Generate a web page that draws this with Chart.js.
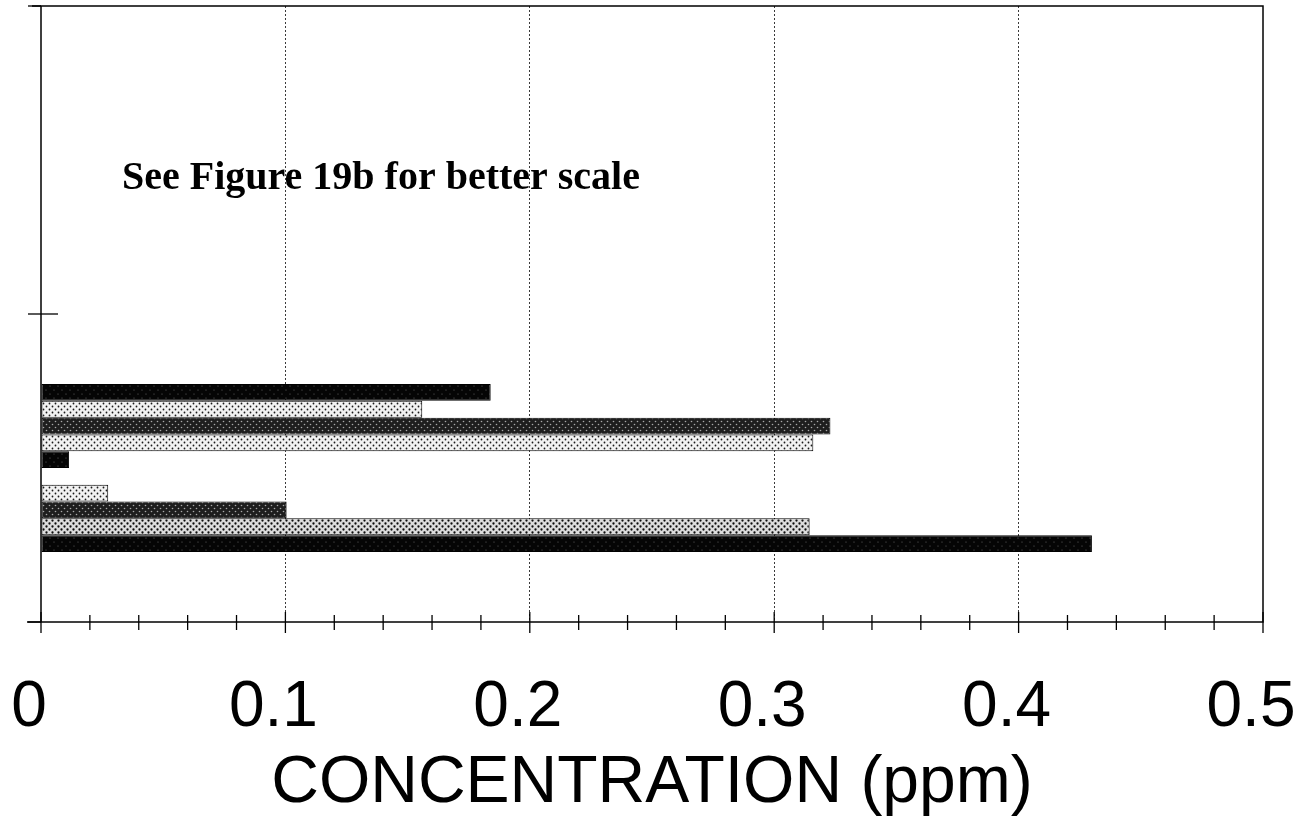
<!DOCTYPE html>
<html>
<head>
<meta charset="utf-8">
<script src="https://cdn.jsdelivr.net/npm/chart.js@4/dist/chart.umd.min.js"></script>
<style>
  html, body { margin: 0; padding: 0; background: #fff; }
  #wrap { position: relative; width: 1310px; height: 816px; }
</style>
</head>
<body>
<div id="wrap"><canvas id="conc"></canvas></div>
<script>
// categorías (sin rótulo visible) y concentraciones en ppm
var categories = ['', ''];
var seriesNames = ['S1', 'S2', 'S3', 'S4', 'S5', 'S6', 'S7', 'S8', 'S9', 'S10'];
var upperValues = [null, null, null, null, null, null, null, null, null, null];
var lowerValues = [0.184, 0.156, 0.323, 0.316, 0.0115, 0, 0.0275, 0.1005, 0.3145, 0.43];
var tickLabels = ['0', '0.1', '0.2', '0.3', '0.4', '0.5'];
var noteText = 'See Figure 19b for better scale';
var axisTitle = 'CONCENTRATION (ppm)';

(function () {
    // tramas de semitono para las barras
    function halftone(base, ink, step, r) {
        var c = document.createElement('canvas');
        c.width = c.height = step * 2;
        var g = c.getContext('2d');
        g.fillStyle = base;
        g.fillRect(0, 0, c.width, c.height);
        g.fillStyle = ink;
        [[0, 0], [step, step]].forEach(function (p) {
            g.beginPath();
            g.arc(p[0] + step / 2, p[1] + step / 2, r, 0, Math.PI * 2);
            g.fill();
        });
        return g.createPattern(c, 'repeat');
    }

    var black = halftone('#050505', '#6a6a6a', 4, 0.6);
    var dark = halftone('#1e1e1e', '#a8a8a8', 3, 0.8);
    var light = halftone('#f2f2f2', '#1a1a1a', 3, 0.9);
    var medium = halftone('#dcdcdc', '#0c0c0c', 3, 1.15);
    var fills = [black, light, dark, light, black, '#fff', light, dark, medium, black];

    function isMajor(v) { return Math.abs(v * 10 - Math.round(v * 10)) < 1e-6; }

    var datasets = seriesNames.map(function (name, i) {
        return {
            label: name,
            data: [upperValues[i], lowerValues[i]],
            backgroundColor: fills[i],
            borderColor: '#000',
            borderWidth: 1,
            borderSkipped: false,
            categoryPercentage: 0.545,
            barPercentage: 1.0
        };
    });

    // marco, marcas de eje y nota
    var frame = {
        id: 'frame',
        afterDraw: function (chart) {
            var a = chart.chartArea, ctx = chart.ctx;
            var x = chart.scales.x, y = chart.scales.y;
            ctx.save();
            ctx.strokeStyle = '#000';
            ctx.lineWidth = 1.5;
            ctx.strokeRect(a.left, a.top, a.right - a.left, a.bottom - a.top);

            ctx.beginPath();
            ctx.moveTo(a.left - 14, a.bottom);
            ctx.lineTo(a.left, a.bottom);
            ctx.moveTo(a.left - 9, a.top);
            ctx.lineTo(a.left, a.top);
            ctx.stroke();

            ctx.lineWidth = 1.3;
            x.ticks.forEach(function (t) {
                var px = x.getPixelForValue(t.value);
                var m = isMajor(t.value);
                ctx.beginPath();
                ctx.moveTo(px, a.bottom - (m ? 10 : 7));
                ctx.lineTo(px, a.bottom + (m ? 11 : 8));
                ctx.stroke();
            });

            for (var i = 0; i <= categories.length; i++) {
                var py = y.getPixelForValue(i - 0.5);
                var inner = (i > 0 && i < categories.length) ? 17 : 0;
                ctx.beginPath();
                ctx.moveTo(a.left - 13, py);
                ctx.lineTo(a.left + inner, py);
                ctx.stroke();
            }

            ctx.fillStyle = '#000';
            ctx.font = 'bold 40px "Liberation Serif", "Times New Roman", serif';
            ctx.textBaseline = 'alphabetic';
            ctx.fillText(noteText, a.left + 81, 189);
            ctx.restore();
        }
    };

    new Chart(document.getElementById('conc'), {
        type: 'bar',
        data: { labels: categories, datasets: datasets },
        options: {
            indexAxis: 'y',
            responsive: true,
            maintainAspectRatio: false,
            animation: false,
            layout: { padding: { left: 41, right: 47, top: 6, bottom: 0 } },
            plugins: {
                legend: { display: false },
                tooltip: { enabled: false }
            },
            scales: {
                x: {
                    min: 0,
                    max: 0.5,
                    border: { display: false, dash: [2, 2] },
                    grid: {
                        drawTicks: false,
                        lineWidth: 1,
                        color: function (c) {
                            var v = c.tick ? c.tick.value : 0;
                            return (isMajor(v) && v > 0.001 && v < 0.499) ? '#3a3a3a' : 'rgba(0,0,0,0)';
                        }
                    },
                    ticks: {
                        stepSize: 0.02,
                        autoSkip: false,
                        maxRotation: 0,
                        minRotation: 0,
                        padding: 0,
                        labelOffset: -12,
                        color: '#000',
                        font: { family: '"Liberation Sans", Arial, sans-serif', size: 64, lineHeight: 172 / 64 },
                        callback: function (v) {
                            return isMajor(v) ? tickLabels[Math.round(v * 10)] : '';
                        }
                    },
                    title: {
                        display: true,
                        text: axisTitle,
                        color: '#000',
                        padding: { top: -20, bottom: 22 },
                        font: { family: '"Liberation Sans", Arial, sans-serif', size: 66, lineHeight: 20 / 66 }
                    }
                },
                y: {
                    display: false,
                    grid: { display: false }
                }
            }
        },
        plugins: [frame]
    });
})();
</script>
</body>
</html>
